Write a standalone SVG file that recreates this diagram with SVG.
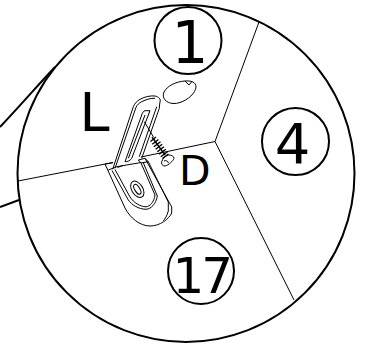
<svg xmlns="http://www.w3.org/2000/svg" width="365" height="344" viewBox="0 0 365 344">
<style>
.o{fill:none;stroke:#000;stroke-width:2}
.e{fill:none;stroke:#000;stroke-width:1;stroke-linejoin:round}
.f{fill:none;stroke:#000;stroke-width:1;stroke-linejoin:round}
.t{fill:none;stroke:#000;stroke-width:1.400}
text{font-family:"DejaVu Sans",sans-serif;fill:#000}
</style>
<g id="detail-circle"><circle class="o" cx="186" cy="173.500" r="168.500"/></g>
<g id="connectors">
<path class="o" d="M0 127C20 106 38 85 55 67"/>
<path class="o" d="M0 207L19 200"/>
<path class="e" d="M18 181L113 162.500M141 157L215 141.500L259 22M215 141.500L294 300"/>
</g>
<g id="bracket">
<path class="f" d="M105 164L113 162.700M105 164L125 208C130 218 140 226 150 226C160 226 169 219 171.700 213V207L145 158.300"/>
<path class="f" d="M108.300 170L116.700 166.700L140 162.700M112 170.500L128.300 200C132 205 138 209 146 209.300C151 209 156 204 157.300 196L143.300 162.700"/>
<path class="f" d="M115 169.500L130 197C134 203 140 206.500 146 206.800C150 206.500 154 202 155 195L141 163"/>
<path class="f" d="M148.300 161.700L168.300 202V211C167 216 165 219 163.300 220.700"/>
<path class="f" d="M138.300 160L145 158.300L148.300 161.700L141 163Z"/>
<ellipse class="f" cx="137.300" cy="189.300" rx="9" ry="5.500" transform="rotate(58 137.300 189.300)"/>
<ellipse class="f" cx="137.300" cy="189.300" rx="5.500" ry="2.500" transform="rotate(58 137.300 189.300)"/>
<path class="f" d="M112.700 169.300L133.300 106.700C135 103 137 101 140 99.300C145 96.500 151 95.500 155 96C159 97 161 99 160 102C159.500 104 159.500 106 159.300 108.300L141.700 158.300"/>
<path class="f" d="M115 168.300L136 107.300C137 105 139 103 141.700 101.700C146 99.500 151 98 155 98.300"/>
<path class="f" d="M156.700 106.700L139.300 156.700"/>
<path class="f" d="M125 161.700L141.700 115C142.500 112.500 143.500 111 145 110.700L150 110.700L131.700 158.300C130.500 160.500 127 162 125 161.700Z"/>
<path class="f" d="M128.300 158.300L145 115"/>
<path class="f" d="M117.500 167.500L123 165.500"/>
</g>
<g id="screw">
<path class="e" d="M144.300 121.700L153.300 136.700"/>
<path class="t" d="M152 137L165 155"/>
<path class="t" d="M150.500 141.500L156 137M152.300 144.200L158.400 139.500M153.800 146.800L160.500 141.800M155.600 149.300L162.200 144.300M157.300 151.800L164 146.800M159 154.300L165.800 149.300M160.800 156.800L167.500 151.800M162.500 158.500L168.500 154"/>
<path class="e" d="M168.300 155C171 155 174 156 174 158.300C173 161 169 165 165 166C162.500 166 161 164 161.700 161.700C163 158 165 156 168.300 155Z"/>
<path class="f" d="M164 161C166 160 168 161 168.500 163"/>
</g>
<g id="hole"><path class="e" d="M173 103.500C166 103 161.500 98 164 92C167 86 176 81.500 185 81C191 80.500 196 82 196 87C195.500 93 188 100 180 102.500C178 103.300 175 103.600 173 103.500Z"/><path class="f" d="M185 81L189 85L192 81.500"/></g>
<g id="label-L"><text x="79.500" y="131" font-size="54">L</text></g>
<g id="label-D"><text x="179" y="185" font-size="41">D</text></g>
<g id="callout-1"><circle class="o" cx="188" cy="40.500" r="33.500"/><text x="190" y="63" font-size="58" text-anchor="middle">1</text></g>
<g id="callout-4"><circle class="o" cx="295.500" cy="141.500" r="33.500"/><text x="292.500" y="162.500" font-size="56" text-anchor="middle">4</text></g>
<g id="callout-17"><circle class="o" cx="201" cy="271" r="33"/><text x="172.500" y="293" font-size="50" letter-spacing="-3">17</text></g>
</svg>
